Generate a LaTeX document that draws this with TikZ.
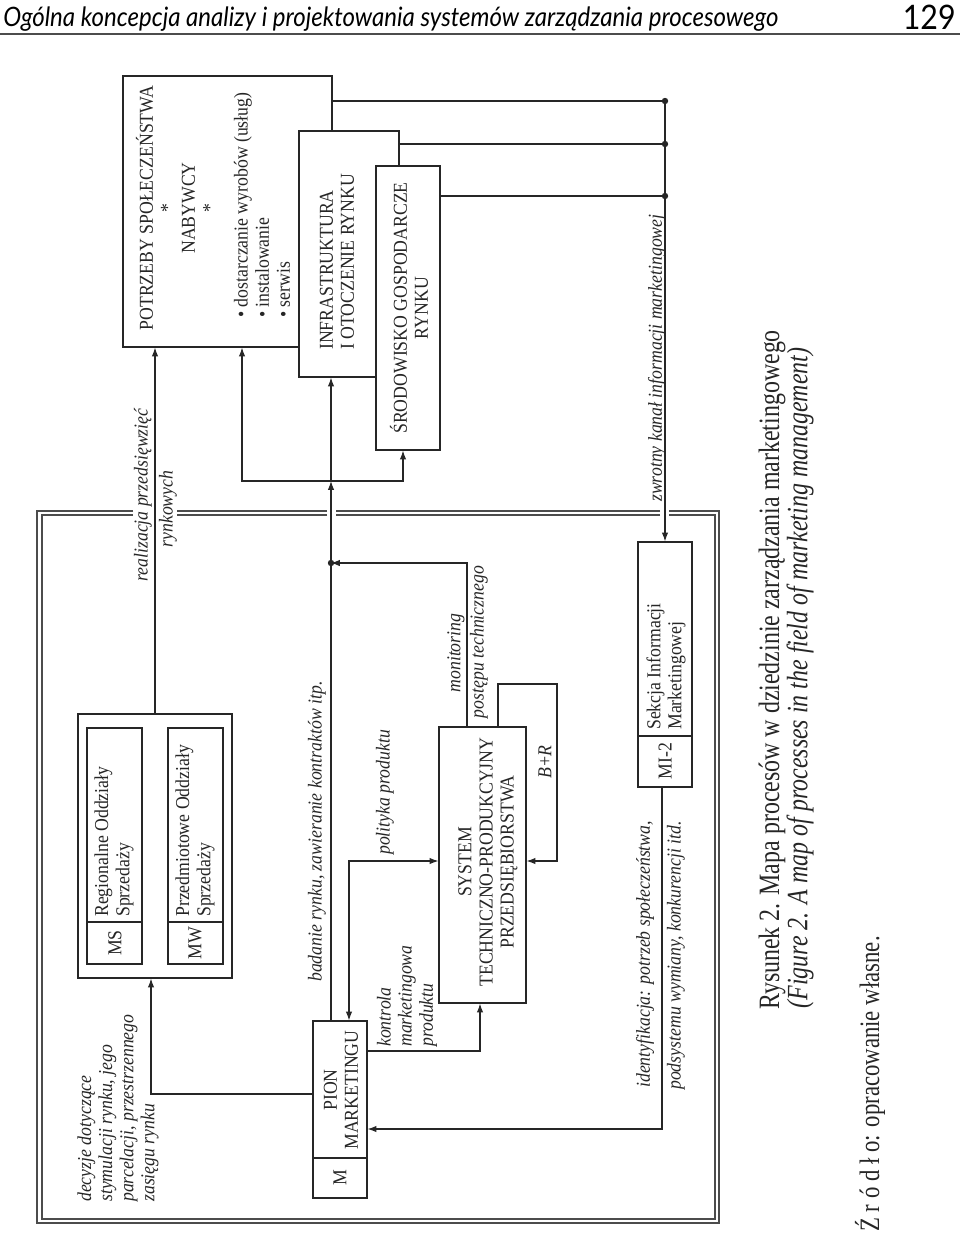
\documentclass[tikz,border=0pt]{standalone}
\usepackage{fontspec}
\usepackage{graphicx}
\setmainfont{Liberation Serif}[FakeStretch=0.9]
\newfontfamily\naglowekfont{Lato}[FakeStretch=0.9]
\usetikzlibrary{arrows.meta,fit}
\definecolor{kreska}{gray}{0.15}
\definecolor{ramka}{gray}{0.3}
\newcommand{\waski}[1]{\scalebox{0.9}[1]{#1}}
\tikzset{
  skrzynka/.style={draw=kreska, line width=0.8pt, fill=white, inner sep=0pt},
  napis/.style={rotate=90, inner sep=0pt, text=kreska, font=\fontsize{14}{15}\selectfont},
  etykieta/.style={napis, font=\fontsize{14}{15}\selectfont\itshape},
  podpis/.style={rotate=90, inner sep=0pt, text=kreska, font=\rmfamily\fontsize{21}{23}\selectfont},
  linia/.style={draw=kreska, line width=0.8pt},
  strzalka/.style={linia, -{Latex[length=2.2mm,width=1.6mm]}},
  strzalki/.style={linia, {Latex[length=2.2mm,width=1.6mm]}-{Latex[length=2.2mm,width=1.6mm]}},
}

\begin{document}
\begin{tikzpicture}[x=0.025cm,y=-0.025cm]
\useasboundingbox (0,0) rectangle (960,1237);

\node[anchor=base west, inner sep=0pt, font=\naglowekfont\itshape\fontsize{19}{21}\selectfont] (tytul) at (3,26) {Ogólna koncepcja analizy i projektowania systemów zarządzania procesowego};
\node[anchor=base east, inner sep=0pt, font=\naglowekfont\fontsize{24}{26}\selectfont] (strona) at (956,29) {129};
\draw[ramka, line width=1.2pt] (0,34) -- (960,34);

\draw[ramka, line width=0.9pt] (133,511) -- (37,511) -- (37,1223) -- (719,1223) -- (719,511) -- (669,511) (660,511) -- (336,511) (327,511) -- (177,511);
\draw[ramka, line width=0.9pt] (133,515) -- (42,515) -- (42,1219) -- (715,1219) -- (715,515) -- (669,515) (660,515) -- (336,515) (327,515) -- (177,515);

\node[skrzynka, fit={(123,76) (332,347)}] (potrzeby) {};
\node[skrzynka, fit={(299,131) (399,377)}] (infra) {};
\node[skrzynka, fit={(376,166) (440,450)}] (srodowisko) {};
\node[skrzynka, fit={(78,714) (232,978)}] (oddzialy) {};
\node[skrzynka, fit={(87,728) (142,964)}] (ms) {};
\node[skrzynka, fit={(168,728) (223,964)}] (mw) {};
\node[skrzynka, fit={(313,1021) (367,1198)}] (pion) {};
\node[skrzynka, fit={(439,727) (526,1003)}] (system) {};
\node[skrzynka, fit={(638,542) (692,787)}] (sekcja) {};
\draw[linia] (ms.west |- 0,922) -- (ms.east |- 0,922);
\draw[linia] (mw.west |- 0,922) -- (mw.east |- 0,922);
\draw[linia] (pion.west |- 0,1158) -- (pion.east |- 0,1158);
\draw[linia] (sekcja.west |- 0,736) -- (sekcja.east |- 0,736);

\node[napis, align=center] (potrzebytxt) at (176,208) {POTRZEBY SPOŁECZEŃSTWA\\*\\NABYWCY\\*};
\node[napis, anchor=west, align=left] (uslugi) at (262,318) {\textbullet\ dostarczanie wyrobów (usług)\\\textbullet\ instalowanie\\\textbullet\ serwis};
\node[napis, anchor=west, align=left] (infratxt) at (337,350) {INFRASTRUKTURA\\I OTOCZENIE RYNKU};
\node[napis, align=center] (srodowiskotxt) at (409,308) {ŚRODOWISKO GOSPODARCZE\\RYNKU};
\node[napis] (mstxt) at (115,943) {MS};
\node[napis, anchor=west, align=left] (regionalne) at (114,917) {Regionalne Oddziały\\Sprzedaży};
\node[napis] (mwtxt) at (195,943) {MW};
\node[napis, anchor=west, align=left] (przedmiotowe) at (195,917) {Przedmiotowe Oddziały\\Sprzedaży};
\node[napis, align=center] (piontxt) at (341,1090) {PION\\MARKETINGU};
\node[napis] (mtxt) at (340,1178) {M};
\node[napis, align=center] (systemtxt) at (488,862) {SYSTEM\\TECHNICZNO-PRODUKCYJNY\\PRZEDSIĘBIORSTWA};
\node[napis] (mitxt) at (665,761) {MI-2};
\node[napis, anchor=west, align=left] (sekcjatxt) at (666,730) {Sekcja Informacji\\Marketingowej};

\node[etykieta] (realizacja) at (143,495) {realizacja przedsięwzięć};
\node[etykieta] (rynkowych) at (168,509) {rynkowych};
\node[etykieta, anchor=west, align=left] (decyzje) at (118,1202) {decyzje dotyczące\\stymulacji rynku, jego\\parcelacji, przestrzennego\\zasięgu rynku};
\node[etykieta, anchor=west] (badanie) at (317,982) {badanie rynku, zawieranie kontraktów itp.};
\node[etykieta, anchor=west] (polityka) at (385,855) {polityka produktu};
\node[etykieta, anchor=west, align=left] (kontrola) at (407,1047) {kontrola\\marketingowa\\produktu};
\node[etykieta] (monitoring) at (456,653) {monitoring};
\node[etykieta] (postep) at (479,642) {postępu technicznego};
\node[etykieta] (br) at (545,762) {B+R};
\node[etykieta, anchor=west] (identyfikacja) at (645,1088) {identyfikacja: potrzeb społeczeństwa,};
\node[etykieta, anchor=west] (podsystem) at (676,1090) {podsystemu wymiany, konkurencji itd.};
\node[etykieta, anchor=west] (zwrotny) at (657,502) {zwrotny kanał informacji marketingowej};

\coordinate (wezel) at (331,481);
\coordinate (monit) at (331,563);
\coordinate (kanal1) at (665,101);
\coordinate (kanal2) at (665,144);
\coordinate (kanal3) at (665,196);

\draw[strzalka] (155,0 |- oddzialy.north) -- (155,0 |- potrzeby.south);
\draw[strzalka] (pion.west |- 0,1094) -| (151,0 |- oddzialy.south);
\draw[strzalka] (331,0 |- pion.north) -- (wezel);
\draw[strzalka] (wezel) -- (infra.south -| wezel);
\draw[strzalka] (wezel) -| (242,0 |- potrzeby.south);
\draw[strzalka] (wezel) -| (403,0 |- srodowisko.south);
\draw[strzalka] (467,0 |- system.north) |- (monit);
\draw[strzalki] (349,0 |- pion.north) |- (system.west |- 0,861);
\draw[strzalka] (pion.east |- 0,1051) -| (480,0 |- system.south);
\draw[strzalka] (498,0 |- system.north) |- (557,684) |- (system.east |- 0,861);
\draw[strzalka] (662,0 |- sekcja.south) |- (pion.east |- 0,1129);
\draw[strzalka] (potrzeby.east |- kanal1) -- (kanal1) -- (665,0 |- sekcja.north);
\draw[linia] (infra.east |- kanal2) -- (kanal2);
\draw[linia] (srodowisko.east |- kanal3) -- (kanal3);
\foreach \k in {monit,kanal1,kanal2,kanal3}
  \fill[kreska] (\k) circle (0.8mm);

\node[podpis] (rysunek) at (772,670) {\waski{Rysunek 2. Mapa procesów w dziedzinie zarządzania marketingowego}};
\node[podpis, font=\rmfamily\itshape\fontsize{21}{23}\selectfont] (figure) at (800,678) {\waski{(Figure 2. A map of processes in the field of marketing management)}};
\node[podpis, anchor=west, font=\rmfamily\fontsize{20}{22}\selectfont] (zrodlo) at (870,1232) {\waski{Ź r ó d ł o: opracowanie własne.}};
\end{tikzpicture}
\end{document}
